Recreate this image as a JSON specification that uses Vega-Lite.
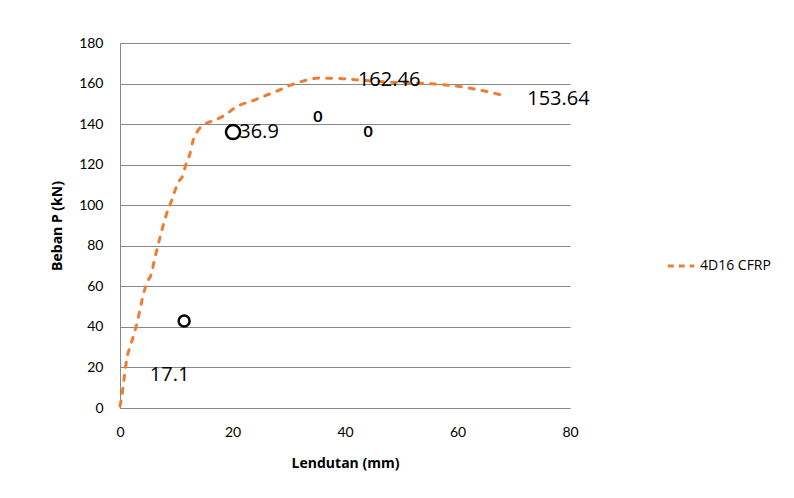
{
  "$schema": "https://vega.github.io/schema/vega-lite/v6.json",
  "autosize": "none",
  "width": 450,
  "height": 365,
  "padding": {"left": 120, "top": 43, "right": 224, "bottom": 90},
  "background": "white",
  "config": {
    "view": {"stroke": null},
    "font": "Lato",
    "axis": {
      "labelFont": "Lato", "labelFontSize": 14, "labelColor": "#000000",
      "titleFont": "Open Sans", "titleFontSize": 14, "titleFontWeight": "bold", "titleColor": "#000000",
      "domainColor": "#878787", "gridColor": "#878787", "ticks": false, "labelFlush": false
    }
  },
  "datasets": {
    "curve": [
      {"d": 0, "p": 1, "s": "4D16 CFRP"},
      {"d": 0.36, "p": 6.4, "s": "4D16 CFRP"},
      {"d": 0.7, "p": 14, "s": "4D16 CFRP"},
      {"d": 1.2, "p": 24, "s": "4D16 CFRP"},
      {"d": 2.0, "p": 32, "s": "4D16 CFRP"},
      {"d": 2.7, "p": 38.5, "s": "4D16 CFRP"},
      {"d": 3.2, "p": 44, "s": "4D16 CFRP"},
      {"d": 3.9, "p": 53, "s": "4D16 CFRP"},
      {"d": 4.8, "p": 62, "s": "4D16 CFRP"},
      {"d": 5.5, "p": 65.5, "s": "4D16 CFRP"},
      {"d": 6.2, "p": 74, "s": "4D16 CFRP"},
      {"d": 7.1, "p": 84, "s": "4D16 CFRP"},
      {"d": 8.2, "p": 95, "s": "4D16 CFRP"},
      {"d": 9.2, "p": 102.5, "s": "4D16 CFRP"},
      {"d": 10.3, "p": 111, "s": "4D16 CFRP"},
      {"d": 11.2, "p": 115, "s": "4D16 CFRP"},
      {"d": 11.7, "p": 120, "s": "4D16 CFRP"},
      {"d": 12.4, "p": 125, "s": "4D16 CFRP"},
      {"d": 13.0, "p": 132, "s": "4D16 CFRP"},
      {"d": 13.9, "p": 137, "s": "4D16 CFRP"},
      {"d": 15.1, "p": 140, "s": "4D16 CFRP"},
      {"d": 16.9, "p": 142, "s": "4D16 CFRP"},
      {"d": 18.7, "p": 144.5, "s": "4D16 CFRP"},
      {"d": 20.4, "p": 148, "s": "4D16 CFRP"},
      {"d": 24.0, "p": 152, "s": "4D16 CFRP"},
      {"d": 27.6, "p": 156, "s": "4D16 CFRP"},
      {"d": 31.1, "p": 160, "s": "4D16 CFRP"},
      {"d": 35.6, "p": 162.7, "s": "4D16 CFRP"},
      {"d": 39.0, "p": 162.5, "s": "4D16 CFRP"},
      {"d": 42.7, "p": 161.7, "s": "4D16 CFRP"},
      {"d": 48.0, "p": 160.7, "s": "4D16 CFRP"},
      {"d": 53.3, "p": 160.2, "s": "4D16 CFRP"},
      {"d": 59.6, "p": 158.8, "s": "4D16 CFRP"},
      {"d": 64.0, "p": 156.8, "s": "4D16 CFRP"},
      {"d": 67.9, "p": 154.3, "s": "4D16 CFRP"}
    ],
    "labels": [
      {"d": 42.3, "p": 161.7, "t": "162.46"},
      {"d": 72.4, "p": 152.4, "t": "153.64"},
      {"d": 21.2, "p": 136.1, "t": "36.9"},
      {"d": 5.3, "p": 16.3, "t": "17.1"}
    ],
    "rings": [
      {"d": 20.1, "p": 136.1, "k": "big"},
      {"d": 11.4, "p": 42.9, "k": "small"}
    ],
    "zeros": [
      {"d": 35.2, "p": 143.5, "t": "0"},
      {"d": 44.1, "p": 136.1, "t": "0"}
    ]
  },
  "layer": [
    {
      "data": {"name": "curve"},
      "mark": {"type": "line", "interpolate": "monotone", "strokeWidth": 3, "strokeDash": [5, 8], "strokeCap": "round"},
      "encoding": {
        "x": {"field": "d", "type": "quantitative", "scale": {"domain": [0, 80]},
              "axis": {"values": [0, 20, 40, 60, 80], "grid": false, "title": "Lendutan (mm)", "labelPadding": 17, "titlePadding": 17}},
        "y": {"field": "p", "type": "quantitative", "scale": {"domain": [0, 180]},
              "axis": {"values": [0, 20, 40, 60, 80, 100, 120, 140, 160, 180], "grid": true, "title": "Beban P (kN)", "labelPadding": 17, "titlePadding": 14}},
        "color": {"field": "s", "type": "nominal", "scale": {"range": ["#ED7D31"]},
                  "legend": {"title": null, "orient": "none", "legendX": 546, "legendY": 208,
                             "symbolType": "stroke", "symbolSize": 700, "symbolStrokeWidth": 3, "symbolDash": [6, 5], "labelOffset": 4,
                             "labelFont": "Open Sans", "labelFontSize": 14, "labelColor": "#000000"}}
      }
    },
    {
      "data": {"name": "labels"},
      "mark": {"type": "text", "align": "left", "baseline": "middle", "fontSize": 20, "font": "Open Sans", "color": "#000000"},
      "encoding": {
        "x": {"field": "d", "type": "quantitative"},
        "y": {"field": "p", "type": "quantitative"},
        "text": {"field": "t"}
      }
    },
    {
      "data": {"name": "rings"},
      "transform": [{"filter": "datum.k == 'big'"}],
      "mark": {"type": "point", "shape": "circle", "filled": false, "size": 200, "strokeWidth": 2.5, "opacity": 1, "color": "#000000"},
      "encoding": {
        "x": {"field": "d", "type": "quantitative"},
        "y": {"field": "p", "type": "quantitative"}
      }
    },
    {
      "data": {"name": "rings"},
      "transform": [{"filter": "datum.k == 'small'"}],
      "mark": {"type": "point", "shape": "circle", "filled": false, "size": 120, "strokeWidth": 2.5, "opacity": 1, "color": "#000000"},
      "encoding": {
        "x": {"field": "d", "type": "quantitative"},
        "y": {"field": "p", "type": "quantitative"}
      }
    },
    {
      "data": {"name": "zeros"},
      "mark": {"type": "text", "align": "center", "baseline": "middle", "fontSize": 16, "fontWeight": "bold", "font": "Lato", "color": "#000000"},
      "encoding": {
        "x": {"field": "d", "type": "quantitative"},
        "y": {"field": "p", "type": "quantitative"},
        "text": {"field": "t"}
      }
    }
  ]
}
